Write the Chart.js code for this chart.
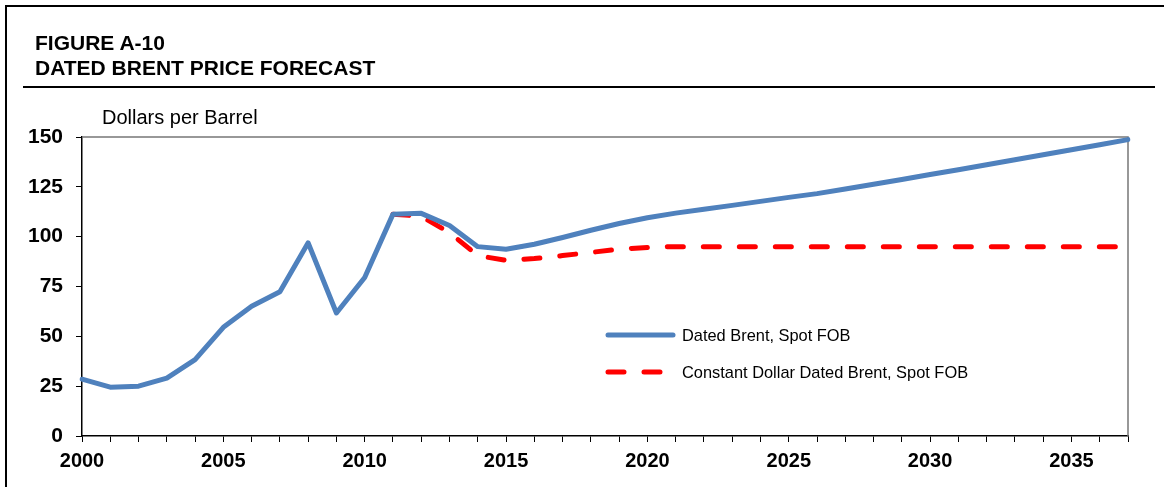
<!DOCTYPE html>
<html>
<head>
<meta charset="utf-8">
<script src="https://cdn.jsdelivr.net/npm/chart.js@4.4.1/dist/chart.umd.min.js"></script>
<style>
  html, body { margin: 0; padding: 0; background: #fff; }
  body { width: 1164px; height: 487px; position: relative; overflow: hidden; font-family: "Liberation Sans", Arial, sans-serif; }
  #chart { position: absolute; left: 0; top: 0; }
  .frame { position: absolute; left: 5px; top: 5px; width: 1200px; height: 600px; border-left: 2px solid #000; border-top: 2px solid #000; }
  .title { position: absolute; left: 35px; top: 30px; font-weight: bold; font-size: 21px; line-height: 25px; color: #000; white-space: nowrap; }
  .rule { position: absolute; left: 23px; top: 86px; width: 1132px; height: 2px; background: #000; }
  .unit { position: absolute; left: 102px; top: 105px; font-size: 20px; line-height: 24px; color: #000; white-space: nowrap; }
</style>
</head>
<body>
<canvas id="chart" width="1164" height="487"></canvas>
<div class="frame"></div>
<div class="title">FIGURE A-10<br>DATED BRENT PRICE FORECAST</div>
<div class="rule"></div>
<div class="unit">Dollars per Barrel</div>
<script>
const years = ['2000','2001','2002','2003','2004','2005','2006','2007','2008','2009',
               '2010','2011','2012','2013','2014','2015','2016','2017','2018','2019',
               '2020','2021','2022','2023','2024','2025','2026','2027','2028','2029',
               '2030','2031','2032','2033','2034','2035','2036','2037'];
const xTickLabels = ['2000','2005','2010','2015','2020','2025','2030','2035'];
const yTicks = [0, 25, 50, 75, 100, 125, 150];

const datedBrent = [28.5, 24.5, 25.0, 29.0, 38.3, 54.5, 65.1, 72.4, 96.9, 61.7,
                    79.5, 111.3, 111.7, 105.6, 95.0, 93.7, 96.2, 99.6, 103.2, 106.6,
                    109.5, 111.8, 113.8, 115.7, 117.7, 119.7, 121.6, 123.9, 126.3, 128.7,
                    131.2, 133.6, 136.1, 138.6, 141.1, 143.6, 146.1, 148.7];
const constantDollar = [null, null, null, null, null, null, null, null, null, null,
                        null, 111.3, 110.2, 102.0, 90.5, 88.1, 89.0, 90.5, 92.1, 93.7,
                        94.6, 95.0, 95.0, 95.0, 95.0, 95.0, 95.0, 95.0, 95.0, 95.0,
                        95.0, 95.0, 95.0, 95.0, 95.0, 95.0, 95.0, 95.0];

const seriesLabels = ['Dated Brent, Spot FOB', 'Constant Dollar Dated Brent, Spot FOB'];

const plotBox = {
  id: 'plotBox',
  beforeDatasetsDraw(chart) {
    const { ctx, chartArea: a } = chart;
    ctx.save();
    ctx.strokeStyle = '#777';
    ctx.lineWidth = 1.5;
    ctx.beginPath();
    ctx.moveTo(a.left, a.top);
    ctx.lineTo(a.right, a.top);
    ctx.lineTo(a.right, a.bottom);
    ctx.stroke();
    ctx.restore();
  }
};

const legendPlugin = {
  id: 'customLegend',
  afterDraw(chart) {
    const { ctx } = chart;
    const rows = [335, 372];
    ctx.save();
    chart.data.datasets.forEach((ds, i) => {
      const y = rows[i];
      ctx.strokeStyle = ds.borderColor;
      ctx.lineWidth = ds.borderWidth;
      ctx.lineCap = 'round';
      ctx.setLineDash(ds.borderDash || []);
      ctx.beginPath();
      ctx.moveTo(608, y);
      ctx.lineTo(i === 0 ? 673 : 665, y);
      ctx.stroke();
      ctx.setLineDash([]);
      ctx.fillStyle = '#000';
      ctx.font = '16.4px "Liberation Sans", Arial, sans-serif';
      ctx.textBaseline = 'middle';
      ctx.textAlign = 'left';
      ctx.fillText(ds.label, 682, y + 1);
    });
    ctx.restore();
  }
};

new Chart(document.getElementById('chart'), {
  type: 'line',
  data: {
    labels: years,
    datasets: [
      {
        label: seriesLabels[0],
        data: datedBrent,
        borderColor: '#4F81BD',
        borderWidth: 5,
        pointRadius: 0,
        tension: 0,
        borderCapStyle: 'round',
        borderJoinStyle: 'round',
        fill: false
      },
      {
        label: seriesLabels[1],
        data: constantDollar,
        borderColor: '#FF0000',
        borderWidth: 5,
        borderDash: [16, 20],
        pointRadius: 0,
        tension: 0,
        borderCapStyle: 'round',
        borderJoinStyle: 'round',
        fill: false,
        spanGaps: false
      }
    ]
  },
  options: {
    responsive: false,
    animation: false,
    devicePixelRatio: 1,
    layout: { padding: { left: 0, top: 137, right: 36, bottom: 0 } },
    plugins: { legend: { display: false }, tooltip: { enabled: false }, title: { display: false } },
    scales: {
      x: {
        type: 'category',
        offset: false,
        grid: { drawOnChartArea: false, drawTicks: true, tickLength: 6, color: '#000', tickWidth: 1 },
        border: { color: '#000', width: 1.5 },
        ticks: {
          autoSkip: false,
          maxRotation: 0,
          minRotation: 0,
          padding: 7,
          color: '#000',
          font: { family: '"Liberation Sans", Arial, sans-serif', size: 20, weight: 'bold' },
          callback: function(value) {
            const lbl = this.getLabelForValue(value);
            return xTickLabels.includes(lbl) ? lbl : '';
          }
        },
        afterFit(scale) { scale.height = 51; }
      },
      y: {
        min: 0,
        max: 150,
        afterBuildTicks(scale) { scale.ticks = yTicks.map(v => ({ value: v })); },
        grid: { drawOnChartArea: false, drawTicks: true, tickLength: 6, color: '#000', tickWidth: 1 },
        border: { color: '#000', width: 1.5 },
        ticks: {
          padding: 13,
          color: '#000',
          font: { family: '"Liberation Sans", Arial, sans-serif', size: 21, weight: 'bold' }
        },
        afterFit(scale) { scale.width = 82; }
      }
    }
  },
  plugins: [plotBox, legendPlugin]
});
</script>
</body>
</html>
